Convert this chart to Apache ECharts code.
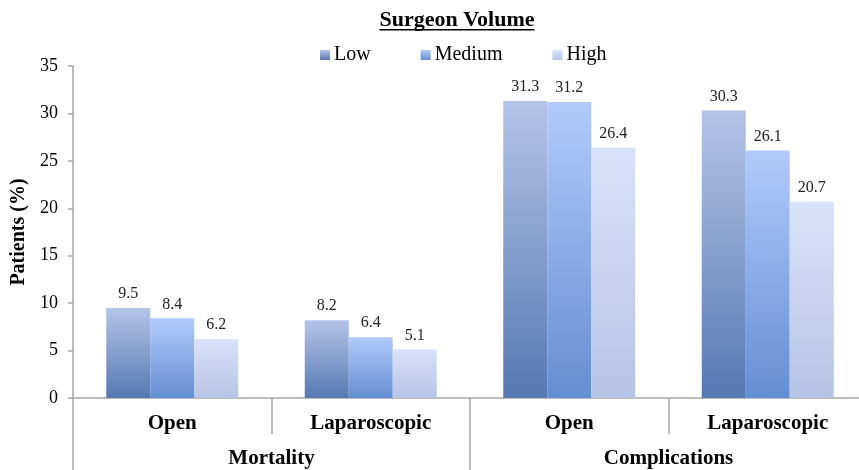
<!DOCTYPE html>
<html>
<head>
<meta charset="utf-8">
<script src="https://cdn.jsdelivr.net/npm/echarts@6/dist/echarts.min.js"></script>
<style>html,body{margin:0;padding:0;background:#fff}#c{width:859px;height:470px}</style>
</head>
<body>
<div id="c"></div>
<script>
var subCategories = ['Open', 'Laparoscopic', 'Open', 'Laparoscopic'];
var groupCategories = ['Mortality', 'Complications'];
var seriesNames = ['Low', 'Medium', 'High'];
var lowValues = [9.5, 8.2, 31.3, 30.3];
var mediumValues = [8.4, 6.4, 31.2, 26.1];
var highValues = [6.2, 5.1, 26.4, 20.7];
var yTicks = { min: 0, max: 35, interval: 5 };
var titleText = 'Surgeon Volume';

var serif = 'Liberation Serif';
function grad(top, bottom) {
  return new echarts.graphic.LinearGradient(0, 0, 0, 1, [
    { offset: 0, color: top }, { offset: 1, color: bottom }
  ]);
}
var colors = [grad('#b4c4e8', '#5678b2'), grad('#b2cafb', '#648ed3'), grad('#d8e2fa', '#b6c4e5')];
var values = [lowValues, mediumValues, highValues];

var titleFont = 'bold 22px "Liberation Serif"';
var ctx = document.createElement('canvas').getContext('2d');
ctx.font = titleFont;
var tw = ctx.measureText(titleText).width;
var tcx = 457;

var chart = echarts.init(document.getElementById('c'));
chart.setOption({
  animation: false,
  graphic: [
    { type: 'text', x: tcx, y: 9, style: { text: titleText, font: titleFont, fill: '#000', textAlign: 'center' } },
    { type: 'rect', x: tcx - tw / 2, y: 29, shape: { width: tw, height: 1.5 }, style: { fill: '#000' } }
  ],
  legend: {
    data: seriesNames,
    left: 315, top: 40,
    itemWidth: 10, itemHeight: 10, itemGap: 50,
    icon: 'rect',
    textStyle: { fontFamily: serif, fontSize: 20, color: '#000', padding: [0, 0, 0, -1] }
  },
  grid: { left: 73, right: -8, top: 66, bottom: 72, containLabel: false, outerBoundsMode: 'none' },
  xAxis: [
    {
      type: 'category', data: subCategories, position: 'bottom',
      axisLine: { lineStyle: { color: '#a6a6a6', width: 1.5 } },
      axisTick: { show: true, length: 36, alignWithLabel: false, lineStyle: { color: '#a6a6a6', width: 1.5 } },
      axisLabel: { margin: 15, fontFamily: serif, fontWeight: 'bold', fontSize: 21, color: '#000', interval: 0 }
    },
    {
      type: 'category', data: groupCategories, position: 'bottom', offset: 0,
      axisLine: { show: false },
      axisTick: { show: true, length: 72, alignWithLabel: false, lineStyle: { color: '#a6a6a6', width: 1.5 } },
      axisLabel: { margin: 50, fontFamily: serif, fontWeight: 'bold', fontSize: 21, color: '#000', interval: 0 }
    }
  ],
  yAxis: {
    type: 'value', min: yTicks.min, max: yTicks.max, interval: yTicks.interval,
    name: 'Patients (%)', nameLocation: 'middle', nameGap: 43, nameRotate: 90,
    nameTextStyle: { fontFamily: serif, fontWeight: 'bold', fontSize: 20, color: '#000' },
    axisLine: { show: true, lineStyle: { color: '#a6a6a6', width: 1.5 } },
    axisTick: { show: true, length: 5, lineStyle: { color: '#a6a6a6', width: 1.5 } },
    splitLine: { show: false },
    axisLabel: { margin: 15, fontFamily: serif, fontSize: 18, color: '#000' }
  },
  series: seriesNames.map(function (n, i) {
    return {
      name: n, type: 'bar', xAxisIndex: 0, data: values[i],
      barWidth: 44, barGap: '0%',
      itemStyle: { color: colors[i] },
      label: { show: true, position: 'top', distance: 6, fontFamily: serif, fontSize: 16, color: '#222',
        formatter: function (p) { return p.value.toFixed(1); } }
    };
  })
});
</script>
</body>
</html>
